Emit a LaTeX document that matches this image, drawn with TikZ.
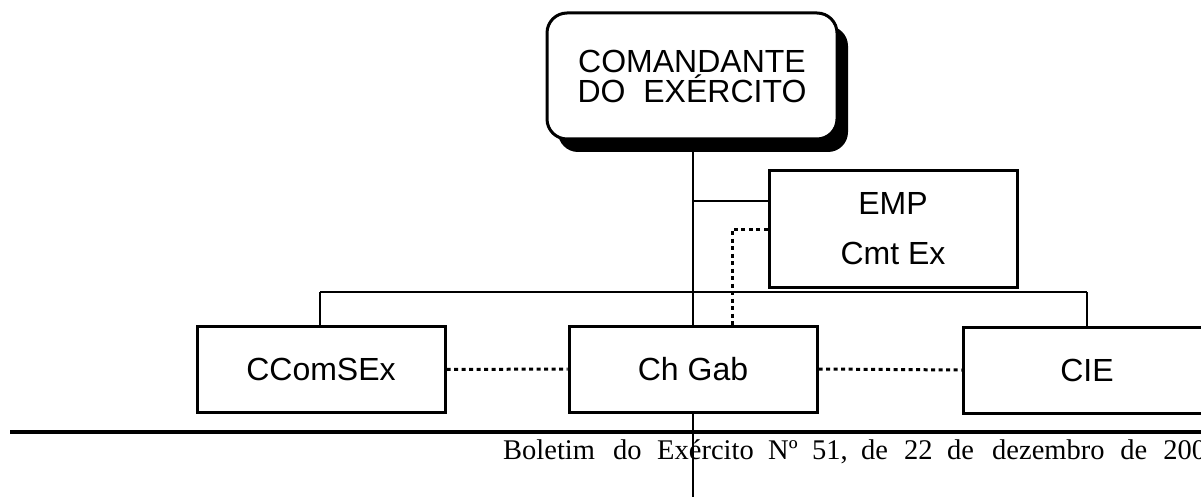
\documentclass[tikz,border=0pt]{standalone}
\usepackage{fontspec}
\setmainfont{Liberation Sans}
\newfontfamily\footfont{Liberation Serif}
\usetikzlibrary{shadows,calc}
\newcommand{\fw}[2]{\rlap{#1 }\kern#2pt}
\begin{document}
\begin{tikzpicture}[x=1pt,y=-1pt,
  orgbox/.style={draw=black,line width=3pt,fill=white,minimum width=248pt,
    inner sep=0pt,align=center,font=\fontsize{32}{36}\selectfont},
  cmdbox/.style={orgbox,rounded corners=20pt,minimum width=290pt,minimum height=126pt,
    drop shadow={shadow xshift=11pt,shadow yshift=-13pt,opacity=1,fill=black},
    font=\fontsize{32}{30}\selectfont},
  link/.style={line width=2pt,black},
  dotlink/.style={line width=3pt,black,dash pattern=on 4pt off 3.5pt},
  footrule/.style={line width=3.5pt,black}]
\useasboundingbox (0,0) rectangle (1201,497);
% footer
\node[anchor=base west,inner sep=0pt,font=\footfont\fontsize{28.5}{30}\selectfont] (foot) at (503,459)
  {\fw{Boletim}{110}\fw{do}{44}\fw{Exército}{111}\fw{Nº}{44}\fw{51,}{49}\fw{de}{43}\fw{22}{43}\fw{de}{45}\fw{dezembro}{128}\fw{de}{43}200};
\coordinate (rl) at (10,432);
\coordinate (rr) at (1201,432);
\draw[footrule] (rl) -- (rr);
% main vertical
\coordinate (bot) at (693,497);
\coordinate (top) at (693,139);
\draw[link] (top) -- (bot);
% bar
\coordinate (barL) at (320,292);
\coordinate (barR) at (1087,292);
\draw[link] (barL) -- (barR);
% nodes
\node[cmdbox] (cmd) at (692,76) {COMANDANTE\\DO\ \ EXÉRCITO};
\node[orgbox,minimum height=116pt] (emp) at (893,229) {EMP\\[14pt]Cmt Ex};
\node[orgbox,minimum height=86pt] (ccom) at (321,369.5) {CComSEx};
\node[orgbox,minimum height=86pt] (chgab) at (693,369) {Ch Gab};
\node[orgbox,minimum height=86pt] (cie) at (1087,370) {CIE};
% connectors
\draw[link] (barL) -- (barL |- ccom.north);
\draw[link] (barR) -- (cie.north);
\coordinate (empin) at ($(emp.north west)!0.267!(emp.south west)$);
\draw[link] (empin) -- (empin -| top);
\draw[dotlink] (emp.west) -| ([xshift=39pt]chgab.north);
\draw[dotlink] (ccom.east) -- (chgab.west);
\draw[dotlink] (chgab.east) -- (cie.west);
\end{tikzpicture}
\end{document}
